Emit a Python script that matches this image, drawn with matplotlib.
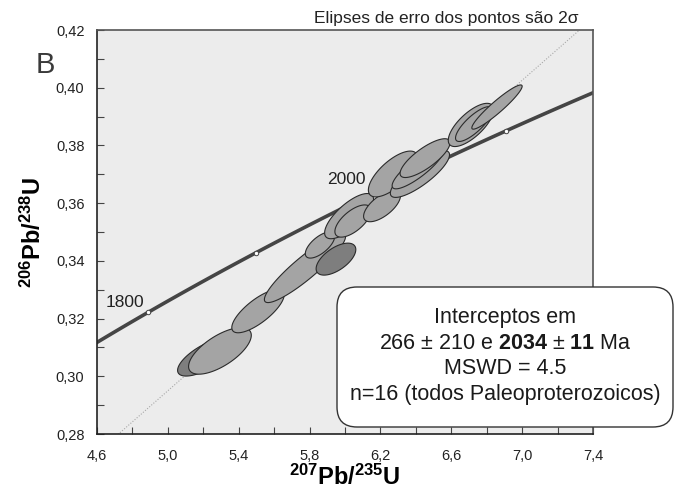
import numpy as np
import matplotlib
matplotlib.use("Agg")
import matplotlib.pyplot as plt
from matplotlib.patches import FancyBboxPatch
from matplotlib.transforms import IdentityTransform

plt.rcParams['font.family'] = ['Liberation Sans', 'DejaVu Sans']
plt.rcParams['mathtext.fontset'] = 'custom'
plt.rcParams['mathtext.rm'] = 'Liberation Sans'
plt.rcParams['mathtext.bf'] = 'Liberation Sans:bold'
plt.rcParams['mathtext.it'] = 'Liberation Sans:italic'

# decay constants (1/yr)
LAMBDA_238 = 1.55125e-10
LAMBDA_235 = 9.8485e-10

# concordia ages (Ma) and labelled age marks
concordia_ages = np.arange(1700, 2260, 5)
marker_ages = [1800, 1900, 2000, 2100]
label_ages = [1800, 2000]

# discordia intercepts (Ma)
intercepts = [266, 2034]

# error ellipses (2 sigma): centre 207/235, centre 206/238, half-width x, half-width y, rho
ell_x = [5.215, 5.294, 5.509, 5.774, 5.949, 6.023, 6.045, 6.271,
         6.209, 6.423, 6.452, 6.412, 6.711, 6.728, 6.858, 5.859]
ell_y = [0.3067, 0.3088, 0.3226, 0.3375, 0.3406, 0.3555, 0.3538, 0.3701,
         0.3590, 0.3701, 0.3756, 0.3722, 0.3871, 0.3874, 0.3933, 0.3455]
ell_sx = [0.160, 0.177, 0.148, 0.229, 0.112, 0.138, 0.102, 0.139,
          0.104, 0.167, 0.141, 0.146, 0.128, 0.104, 0.142, 0.083]
ell_sy = [0.00662, 0.00807, 0.00752, 0.01196, 0.00554, 0.00783, 0.00558, 0.00794,
          0.00544, 0.00811, 0.00672, 0.00724, 0.00749, 0.00603, 0.00766, 0.00454]
ell_rho = [0.70, 0.67, 0.76, 0.91, 0.60, 0.74, 0.65, 0.70,
           0.65, 0.82, 0.79, 0.85, 0.71, 0.80, 0.94, 0.66]
ell_dark = [True, False, False, False, True, False, False, False,
            False, False, False, False, False, False, False, False]
# draw order (back to front)
ell_order = [0, 1, 2, 3, 15, 4, 5, 6, 8, 7, 9, 11, 10, 12, 13, 14]


def concordia(t_ma):
    t = np.asarray(t_ma, dtype=float) * 1e6
    return np.exp(LAMBDA_235 * t) - 1, np.exp(LAMBDA_238 * t) - 1


fig = plt.figure(figsize=(6.75, 4.96), dpi=100)
ax = fig.add_axes([97 / 675, 1 - 434 / 496, 496 / 675, 404 / 496])
ax.set_facecolor('#ececec')

# discordia (dotted)
x0, y0 = concordia(intercepts[0])
x1, y1 = concordia(intercepts[1])
slope = (y1 - y0) / (x1 - x0)
dx = np.array([4.6, 7.4])
ax.plot(dx, y0 + slope * (dx - x0), ls=(0, (1, 1.5)), color='#a8a8a8', lw=0.8, zorder=1)

# concordia band
cx, cy = concordia(concordia_ages)
ax.plot(cx, cy, color='#454545', lw=2.6, solid_capstyle='butt', zorder=2)
mx, my = concordia(marker_ages)
ax.plot(mx, my, 'o', ms=3.2, mfc='white', mec='#454545', mew=0.7, zorder=3)
for age in label_ages:
    lx, ly = concordia(age)
    if age == 2000:
        ax.text(lx - 0.16, ly + 0.0045, str(age), fontsize=12.5, ha='center', va='center',
                color='#222222', zorder=6)
    else:
        ax.text(lx - 0.13, ly + 0.0035, str(age), fontsize=12.5, ha='center', va='center',
                color='#222222', zorder=6)

# error ellipses
tt = np.linspace(0, 2 * np.pi, 200)
for k, i in enumerate(ell_order):
    ex = ell_x[i] + ell_sx[i] * np.cos(tt)
    ey = ell_y[i] + ell_sy[i] * (ell_rho[i] * np.cos(tt) + np.sqrt(1 - ell_rho[i] ** 2) * np.sin(tt))
    fc = '#7e7e7e' if ell_dark[i] else '#a4a4a4'
    ax.fill(ex, ey, facecolor=fc, edgecolor='#2b2b2b', lw=0.8, zorder=4 + k * 0.01)

ax.set_xlim(4.6, 7.4)
ax.set_ylim(0.28, 0.42)
ax.set_xticks(np.arange(4.6, 7.41, 0.4))
ax.set_xticks(np.arange(4.6, 7.41, 0.2), minor=True)
ax.set_yticks(np.arange(0.28, 0.421, 0.02))
ax.set_yticks(np.arange(0.28, 0.421, 0.01), minor=True)
ax.set_xticklabels([f'{v:.1f}'.replace('.', ',') for v in np.arange(4.6, 7.41, 0.4)])
ax.set_yticklabels([f'{v:.2f}'.replace('.', ',') for v in np.arange(0.28, 0.421, 0.02)])
ax.tick_params(which='both', direction='in', colors='#444444', labelcolor='#222222',
               labelsize=10.5, width=0.8)
ax.tick_params(which='major', length=5)
ax.tick_params(which='minor', length=5)
ax.tick_params(axis='x', pad=11)
ax.tick_params(axis='y', pad=9)

for side in ['left', 'bottom']:
    ax.spines[side].set_color('#222222')
    ax.spines[side].set_linewidth(1.2)
for side in ['top', 'right']:
    ax.spines[side].set_color('#555555')
    ax.spines[side].set_linewidth(1.2)

ax.set_xlabel(r'$^{\mathbf{207}}\mathbf{Pb/}^{\mathbf{235}}\mathbf{U}$', fontsize=17, labelpad=1)
ax.set_ylabel(r'$^{\mathbf{206}}\mathbf{Pb/}^{\mathbf{238}}\mathbf{U}$', fontsize=17, labelpad=7)

fig.text(578 / 675, 1 - 19 / 496, 'Elipses de erro dos pontos são 2σ', ha='right', va='center',
         fontsize=12.5, color='#222222')
fig.text(45 / 675, 1 - 65 / 496, 'B', ha='center', va='center', fontsize=21,
         color='#3a3a3a')

# results box
box = FancyBboxPatch((337, 496 - 427), 336, 140, boxstyle='round,pad=0,rounding_size=20',
                     transform=IdentityTransform(), facecolor='white', edgecolor='#333333',
                     lw=1.0, clip_on=False, zorder=10)
fig.patches.append(box)
lines = ['Interceptos em',
         r'266 ± 210 e $\mathbf{2034}$ ± $\mathbf{11}$ Ma',
         'MSWD = 4.5',
         'n=16 (todos Paleoproterozoicos)']
for j, line in enumerate(lines):
    fig.text(505 / 675, 1 - (318 + 25.5 * j) / 496, line, ha='center', va='center',
             fontsize=15.5, color='#1a1a1a', zorder=11)

plt.savefig('out.png', dpi=100)
